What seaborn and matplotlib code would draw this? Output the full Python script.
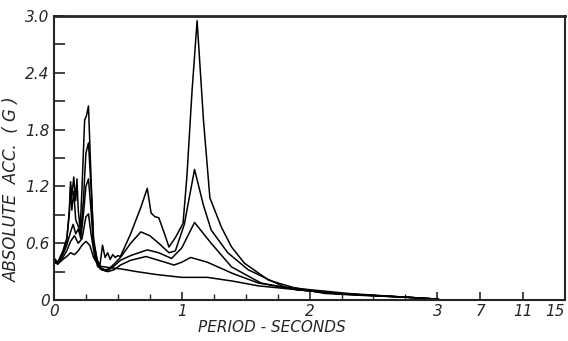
import numpy as np
import pandas as pd
import matplotlib
matplotlib.use("Agg")
import matplotlib.pyplot as plt
import seaborn as sns

# response spectra, five damping levels (top curve = least damping)
xA = [0, 0.03, 0.07, 0.10, 0.12, 0.13, 0.14, 0.155, 0.17, 0.18, 0.19, 0.205, 0.22, 0.24, 0.255,
      0.27, 0.29, 0.31, 0.34, 0.36, 0.38, 0.40, 0.42, 0.44, 0.46, 0.48, 0.50, 0.52, 0.60, 0.68,
      0.73, 0.76, 0.79, 0.82, 0.86, 0.90, 0.95, 1.01, 1.04, 1.08, 1.12, 1.17, 1.22, 1.31, 1.39,
      1.49, 1.68, 1.88, 2.12, 2.4, 2.76, 3.0, 3.3, 7, 11, 15]
yA = [0.45, 0.38, 0.50, 0.62, 0.95, 1.25, 1.10, 1.30, 1.05, 1.28, 0.95, 0.75, 1.20, 1.90, 1.95,
      2.05, 1.30, 0.60, 0.42, 0.37, 0.58, 0.45, 0.50, 0.43, 0.48, 0.45, 0.47, 0.46, 0.70, 0.98,
      1.18, 0.92, 0.88, 0.87, 0.72, 0.56, 0.66, 0.81, 1.30, 2.20, 2.95, 1.90, 1.08, 0.77, 0.56,
      0.39, 0.21, 0.13, 0.07, 0.05, 0.03, 0.01, 0.0, 0.0, 0.0, 0.0]

xB = [0, 0.03, 0.07, 0.10, 0.12, 0.13, 0.14, 0.155, 0.17, 0.19, 0.21, 0.23, 0.25, 0.27, 0.29,
      0.31, 0.34, 0.37, 0.40, 0.43, 0.47, 0.52, 0.60, 0.68, 0.75, 0.82, 0.90, 0.95, 1.02, 1.10,
      1.17, 1.23, 1.36, 1.52, 1.80, 2.0, 2.3, 2.76, 3.0, 3.3, 7, 11, 15]
yB = [0.44, 0.40, 0.52, 0.65, 0.90, 1.20, 0.95, 1.15, 0.85, 0.78, 0.70, 1.05, 1.55, 1.66, 1.20,
      0.65, 0.40, 0.34, 0.32, 0.33, 0.38, 0.45, 0.60, 0.72, 0.68, 0.60, 0.50, 0.52, 0.80, 1.38,
      1.00, 0.74, 0.50, 0.32, 0.14, 0.11, 0.07, 0.03, 0.01, 0.0, 0.0, 0.0, 0.0]

xC = [0, 0.03, 0.07, 0.10, 0.13, 0.15, 0.17, 0.19, 0.21, 0.23, 0.25, 0.27, 0.29, 0.31, 0.34,
      0.37, 0.40, 0.43, 0.47, 0.52, 0.60, 0.73, 0.82, 0.92, 1.00, 1.10, 1.23, 1.39, 1.62, 1.9,
      2.2, 2.76, 3.0, 3.3, 7, 11, 15]
yC = [0.42, 0.40, 0.48, 0.58, 0.72, 0.80, 0.70, 0.75, 0.65, 0.90, 1.20, 1.28, 0.95, 0.55, 0.36,
      0.32, 0.31, 0.32, 0.36, 0.42, 0.47, 0.53, 0.50, 0.44, 0.55, 0.82, 0.60, 0.35, 0.18, 0.11,
      0.07, 0.03, 0.01, 0.0, 0.0, 0.0, 0.0]

xD = [0, 0.03, 0.07, 0.10, 0.13, 0.16, 0.19, 0.22, 0.25, 0.27, 0.29, 0.32, 0.35, 0.38, 0.42,
      0.47, 0.52, 0.60, 0.72, 0.82, 0.94, 1.00, 1.07, 1.20, 1.40, 1.60, 1.9, 2.2, 2.76, 3.0,
      3.3, 7, 11, 15]
yD = [0.40, 0.39, 0.45, 0.52, 0.62, 0.68, 0.60, 0.65, 0.88, 0.91, 0.70, 0.45, 0.35, 0.32, 0.30,
      0.32, 0.37, 0.42, 0.46, 0.42, 0.37, 0.40, 0.45, 0.40, 0.28, 0.18, 0.11, 0.07, 0.03, 0.01,
      0.0, 0.0, 0.0, 0.0]

xE = [0, 0.03, 0.07, 0.10, 0.13, 0.16, 0.19, 0.22, 0.25, 0.28, 0.31, 0.35, 0.40, 0.45, 0.52,
      0.65, 0.80, 1.00, 1.20, 1.40, 1.60, 1.9, 2.3, 2.76, 3.0, 3.3, 7, 11, 15]
yE = [0.40, 0.38, 0.43, 0.46, 0.50, 0.48, 0.52, 0.58, 0.62, 0.58, 0.45, 0.36, 0.35, 0.34, 0.33,
      0.30, 0.27, 0.24, 0.24, 0.20, 0.15, 0.11, 0.06, 0.03, 0.01, 0.0, 0.0, 0.0, 0.0]

x_ticks = [0, 1, 2, 3, 7, 11, 15]
y_ticks = [0, 0.6, 1.2, 1.8, 2.4, 3.0]
y_ticklabels = ["0", "0.6", "1.2", "1.8", "2.4", "3.0"]


def fwd(x):
    x = np.asarray(x, dtype=float)
    return np.where(x <= 3, x, 3 + (x - 3) / 12)


def inv(u):
    u = np.asarray(u, dtype=float)
    return np.where(u <= 3, u, 3 + (u - 3) * 12)


sns.set_style("ticks")
plt.rcParams["font.family"] = ["DejaVu Sans"]
plt.rcParams["font.style"] = "italic"

fig = plt.figure(figsize=(5.68, 3.41), dpi=100)
ax = fig.add_axes([0.095, 0.12, 0.9, 0.833])

curves = [(xA, yA), (xB, yB), (xC, yC), (xD, yD), (xE, yE)]
for xs, ys in curves:
    df = pd.DataFrame({"period": xs, "acc": ys})
    sns.lineplot(data=df, x="period", y="acc", color="black", linewidth=1.1,
                 estimator=None, sort=False, ax=ax)

ax.set_xscale("function", functions=(fwd, inv))
ax.set_xlim(0, 15)
ax.set_ylim(0, 3.0)

ax.set_xticks(x_ticks)
ax.set_xticklabels([str(t) for t in x_ticks], fontsize=11, style="italic")
ax.get_xticklabels()[-1].set_horizontalalignment("right")
ax.set_xticks([q / 4 for q in range(13) if q % 4], minor=True)
ax.set_yticks(y_ticks)
ax.set_yticklabels(y_ticklabels, fontsize=11, style="italic")
ax.set_yticks([0.3, 0.9, 1.5, 2.1, 2.7], minor=True)

ax.tick_params(axis="x", which="major", direction="in", length=6, width=1.2, pad=3)
ax.tick_params(axis="x", which="minor", direction="in", length=4, width=1.0)
ax.tick_params(axis="y", which="both", direction="in", length=8, width=1.2, pad=3)

for side in ["left", "bottom", "right"]:
    ax.spines[side].set_linewidth(1.5)
ax.spines["top"].set_linewidth(2.0)

ax.set_xlabel("PERIOD - SECONDS", fontsize=11, style="italic")
ax.set_ylabel("ABSOLUTE  ACC.  ( G )", fontsize=12, style="italic")
ax.xaxis.set_label_coords(0.427, -0.07)
ax.yaxis.set_label_coords(-0.065, 0.39)

fig.savefig("out.png", dpi=100)
